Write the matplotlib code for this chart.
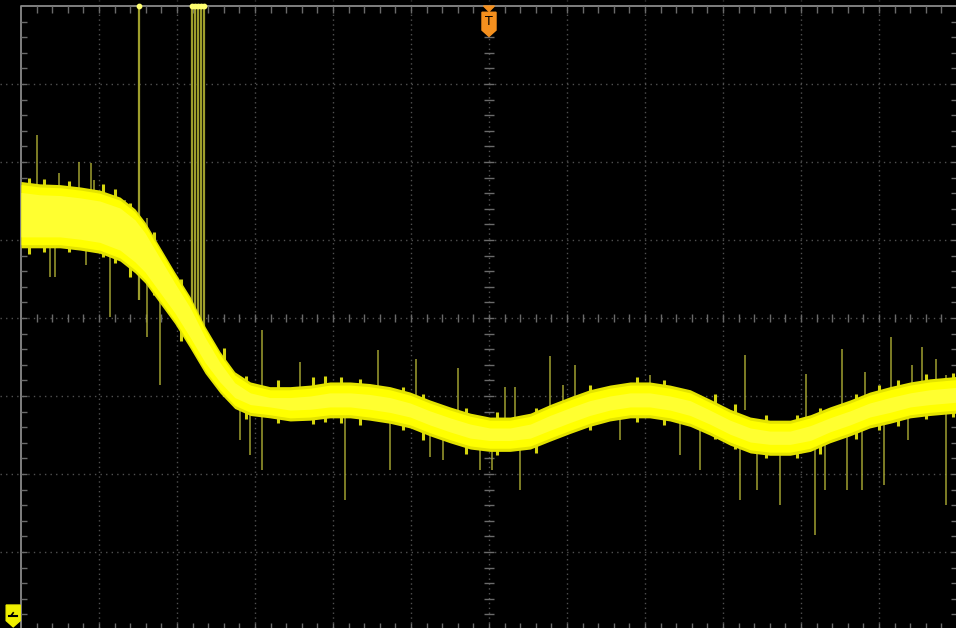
import numpy as np
import matplotlib.pyplot as plt
from matplotlib.patches import Polygon

# trace envelope, in screen divisions (12 x 8 graticule, centre at (6, 0))
band_x = [0.00, 0.24, 0.50, 0.76, 1.01, 1.27, 1.46, 1.59, 1.78, 1.97, 2.17, 2.36,
          2.55, 2.74, 2.94, 3.19, 3.45, 3.71, 3.96, 4.22, 4.47, 4.73, 4.99, 5.24,
          5.50, 5.76, 6.01, 6.27, 6.53, 6.78, 7.04, 7.29, 7.55, 7.81, 8.06, 8.32,
          8.58, 8.83, 9.09, 9.35, 9.60, 9.86, 10.12, 10.37, 10.63, 10.88, 11.14,
          11.40, 11.65, 11.99]
band_top = [1.71, 1.68, 1.67, 1.64, 1.60, 1.51, 1.36, 1.19, 0.87, 0.55, 0.23, -0.15,
            -0.47, -0.73, -0.86, -0.92, -0.92, -0.90, -0.86, -0.86, -0.88, -0.92,
            -0.99, -1.09, -1.18, -1.26, -1.31, -1.31, -1.26, -1.15, -1.05, -0.96,
            -0.90, -0.86, -0.86, -0.90, -0.96, -1.08, -1.21, -1.31, -1.35, -1.35,
            -1.28, -1.18, -1.09, -0.99, -0.92, -0.86, -0.82, -0.79]
band_bot = [0.94, 0.94, 0.94, 0.91, 0.87, 0.77, 0.62, 0.49, 0.23, -0.03, -0.35, -0.67,
            -0.92, -1.12, -1.21, -1.24, -1.28, -1.27, -1.24, -1.24, -1.27, -1.31,
            -1.37, -1.47, -1.56, -1.64, -1.67, -1.67, -1.64, -1.54, -1.44, -1.35,
            -1.28, -1.24, -1.24, -1.28, -1.35, -1.46, -1.59, -1.69, -1.72, -1.72,
            -1.67, -1.56, -1.47, -1.37, -1.31, -1.24, -1.21, -1.18]

# noise spikes: x, upper end, lower end
spike_x = [0.21, 0.49, 0.74, 0.90, 0.94, 1.33, 1.62, 3.09, 3.58, 4.58, 5.06, 5.60,
           6.21, 6.33, 6.78, 6.95, 7.10, 8.06, 9.28, 10.06, 10.53, 10.82, 11.15,
           11.42, 11.55, 11.73, 11.86,
           0.37, 0.44, 0.83, 1.14, 1.62, 1.78, 2.81, 2.94, 3.09, 4.15, 4.73, 5.24,
           5.41, 5.88, 6.04, 6.40, 7.68, 8.45, 8.71, 9.22, 9.44, 9.73, 10.18, 10.31,
           10.59, 10.78, 11.06, 11.37, 11.86]
spike_hi = [2.35, 1.86, 2.00, 1.99, 1.77, 1.51, 1.28, -0.15, -0.56, -0.41, -0.53,
            -0.64, -0.88, -0.88, -0.49, -0.86, -0.60, -0.73, -0.47, -0.72, -0.40,
            -0.69, -0.24, -0.60, -0.37, -0.53, -0.73,
            1.00, 1.00, 0.94, 0.87, 0.62, 0.23, -1.05, -1.12, -1.18, -1.18, -1.24,
            -1.44, -1.51, -1.56, -1.63, -1.63, -1.24, -1.31, -1.37, -1.56, -1.63,
            -1.67, -1.63, -1.56, -1.44, -1.37, -1.31, -1.24, -1.18]
spike_lo = [1.51, 1.51, 1.51, 1.51, 1.51, 1.32, 0.74, -0.99, -0.99, -0.99, -1.05,
            -1.24, -1.37, -1.37, -1.24, -1.18, -1.18, -0.99, -1.18, -1.37, -1.24,
            -1.12, -1.05, -0.99, -0.99, -0.99, -0.99,
            0.53, 0.53, 0.68, 0.01, -0.24, -0.86, -1.56, -1.76, -1.95, -2.33, -1.95,
            -1.78, -1.82, -1.95, -1.95, -2.21, -1.56, -1.76, -1.95, -2.33, -2.21,
            -2.40, -2.78, -2.21, -2.21, -2.21, -2.14, -1.56, -2.40]

# short noise bursts on the trace edges: x, upper end, lower end
burst_x = [0.10, 0.30, 0.62, 1.05, 1.20, 1.40, 1.70, 2.05, 2.60, 2.88, 3.30, 3.75,
           3.90, 4.10, 4.35, 4.90, 5.15, 5.70, 6.10, 6.60, 7.30, 7.90, 8.25, 8.90,
           9.15, 9.55, 9.95, 10.25, 10.70, 11.00, 11.25, 11.60, 11.95]
burst_hi = [1.80, 1.78, 1.76, 1.72, 1.66, 1.48, 1.10, 0.50, -0.38, -0.74, -0.80,
            -0.76, -0.74, -0.76, -0.78, -0.88, -0.98, -1.16, -1.20, -1.16, -0.86,
            -0.76, -0.80, -0.98, -1.10, -1.24, -1.24, -1.15, -0.98, -0.86, -0.80,
            -0.72, -0.70]
burst_lo = [0.82, 0.84, 0.84, 0.78, 0.70, 0.52, 0.30, -0.30, -1.00, -1.30, -1.34,
            -1.36, -1.33, -1.34, -1.37, -1.44, -1.56, -1.74, -1.76, -1.73, -1.44,
            -1.33, -1.37, -1.55, -1.68, -1.80, -1.80, -1.74, -1.55, -1.44, -1.38,
            -1.30, -1.27]

# glitch lines from the top of the screen
glitch_x = [1.51, 2.19, 2.23, 2.27, 2.31, 2.35]
glitch_lo = [0.23, -0.15, -0.15, -0.15, -0.15, -0.15]

fig = plt.figure(figsize=(9.56, 6.28), dpi=100, facecolor="black")
ax = fig.add_axes([0, 0, 1, 1])
ax.set_facecolor("black")
ax.set_xlim(-21 / 78, 935 / 78)
ax.set_ylim(-310 / 78, 318 / 78)
ax.axis("off")

# graticule
grid = "#505050"
for gx in range(1, 12):
    ax.axvline(gx, color=grid, lw=1, ls=(0, (1, 2.5)), zorder=1)
for gy in range(-3, 4):
    ax.axhline(gy, color=grid, lw=1, ls=(0, (1, 3)), zorder=1)
ax.plot([0, 12, 12, 0, 0], [-4, -4, 4, 4, -4], color="#8a8a8a", lw=1.3, zorder=2)
minor = np.arange(0.2, 12, 0.2)
minor_y = np.arange(-3.8, 4, 0.2)
ax.vlines(minor, 3.91, 4, color="#6a6a6a", lw=1, zorder=2)
ax.vlines(minor, -4, -3.91, color="#6a6a6a", lw=1, zorder=2)
ax.hlines(minor_y, 0, 0.08, color="#6a6a6a", lw=1, zorder=2)
ax.hlines(minor_y, 11.92, 12, color="#6a6a6a", lw=1, zorder=2)
ax.vlines(minor, -0.05, 0.05, color="#6a6a6a", lw=1, zorder=2)
ax.hlines(minor_y, 5.94, 6.06, color="#6a6a6a", lw=1, zorder=2)

# glitches
ax.vlines(glitch_x, glitch_lo, 4, color="#9e9e2c", lw=1.6, zorder=3)
ax.scatter(glitch_x, [4] * len(glitch_x), s=10, color="#ffff70", zorder=4)

# trace
ax.vlines(spike_x, spike_lo, spike_hi, color="#a0a030", lw=1.1, zorder=3)
ax.vlines(burst_x, burst_lo, burst_hi, color="#d6d610", lw=2.2, zorder=4)
x = np.array(band_x)
top = np.array(band_top)
bot = np.array(band_bot)
ax.fill_between(x, bot - 0.04, top + 0.04, color="#e4e400", lw=0, zorder=4)
ax.fill_between(x, bot, top, color="#ffff00", lw=0, zorder=5)
ax.fill_between(x, bot + 0.1, top - 0.1, color="#ffff30", lw=0, zorder=5)

# trigger marker
orange = "#f5901e"
ax.add_patch(Polygon([[5.93, 4.0], [6.07, 4.0], [6.0, 3.93]], closed=True,
                     color=orange, zorder=6))
ax.add_patch(Polygon([[5.91, 3.92], [6.09, 3.92], [6.09, 3.69], [6.0, 3.61],
                      [5.91, 3.69]], closed=True, color=orange, zorder=6))
ax.text(6.0, 3.80, "T", color="black", fontsize=9, ha="center", va="center", zorder=7)

# channel 1 ground marker
ax.add_patch(Polygon([[-0.19, -3.68], [-0.01, -3.68], [-0.01, -3.88], [-0.10, -3.96],
                      [-0.19, -3.88]], closed=True, color="#f0f000", zorder=6))
ax.plot([-0.15, -0.05], [-3.82, -3.82], color="black", lw=1.5, zorder=7)
ax.plot([-0.13, -0.10], [-3.82, -3.78], color="black", lw=1.2, zorder=7)

fig.savefig("out.png", dpi=100, facecolor="black")
